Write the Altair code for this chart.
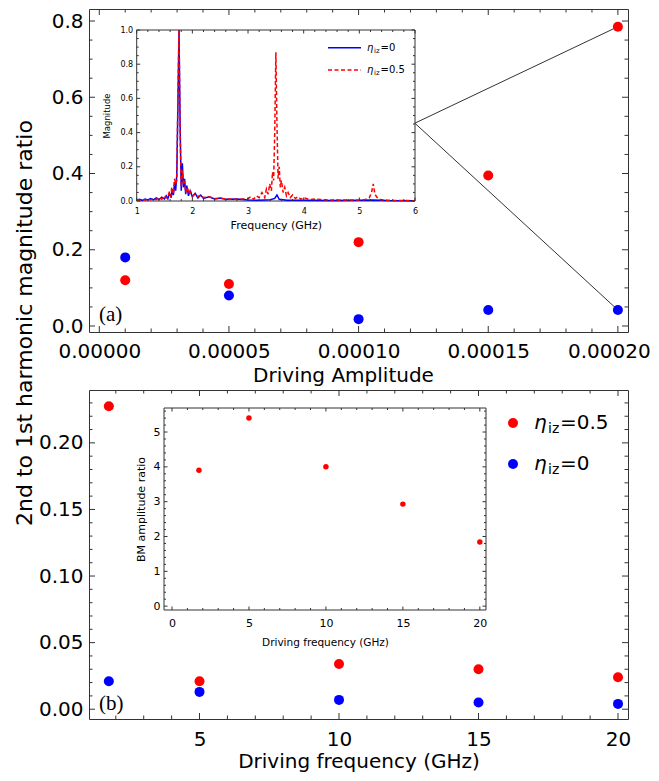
import altair as alt
import pandas as pd

FONT = "DejaVu Sans"
SERIF = "Liberation Serif"
RED = "#ff0000"
BLUE = "#0000ff"
SPINE = "#333333"

# ---------------- data ----------------
# panel (a): ratio vs driving amplitude
amp = [0.00001, 0.00005, 0.00010, 0.00015, 0.00020]
ratio_a_05 = [0.12, 0.11, 0.22, 0.395, 0.785]
ratio_a_0 = [0.18, 0.08, 0.018, 0.042, 0.042]

# panel (b): ratio vs driving frequency
drive_f = [1.75, 5, 10, 15, 20]
ratio_b_05 = [0.2275, 0.021, 0.034, 0.030, 0.024]
ratio_b_0 = [0.021, 0.013, 0.007, 0.005, 0.004]

# inset (b): BM amplitude ratio
bm_ratio = [3.9, 5.4, 4.0, 2.93, 1.84]

# inset (a): spectra
blue_freq = [1.00, 1.05, 1.10, 1.15, 1.20, 1.25, 1.30, 1.35, 1.40, 1.45,
             1.50, 1.53, 1.56, 1.59, 1.62, 1.64, 1.66, 1.68, 1.70, 1.72,
             1.74, 1.76, 1.78, 1.80, 1.82, 1.84, 1.86, 1.88, 1.90, 1.93,
             1.96, 2.00, 2.05, 2.10, 2.15, 2.20, 2.30, 2.40, 2.50, 2.60,
             2.80, 3.00, 3.20, 3.40, 3.48, 3.52, 3.56, 3.70, 4.00, 4.50,
             5.00, 5.25, 5.50, 6.00]
blue_mag = [0.005, 0.010, 0.004, 0.012, 0.006, 0.014, 0.007, 0.018, 0.009, 0.022,
            0.012, 0.030, 0.014, 0.045, 0.020, 0.070, 0.035, 0.11, 0.06, 0.15,
            0.55, 1.00, 0.45, 0.06, 0.22, 0.08, 0.13, 0.04, 0.09, 0.03,
            0.06, 0.025, 0.045, 0.018, 0.035, 0.015, 0.025, 0.012, 0.018, 0.010,
            0.012, 0.006, 0.004, 0.008, 0.015, 0.035, 0.010, 0.005, 0.004, 0.003,
            0.004, 0.006, 0.003, 0.002]
red_freq = [1.00, 1.05, 1.10, 1.15, 1.20, 1.25, 1.30, 1.35, 1.40, 1.45,
            1.50, 1.55, 1.58, 1.61, 1.63, 1.66, 1.68, 1.70, 1.72, 1.74,
            1.76, 1.78, 1.80, 1.82, 1.84, 1.86, 1.88, 1.91, 1.94, 1.97,
            2.00, 2.05, 2.10, 2.15, 2.20, 2.30, 2.40, 2.50, 2.70, 2.90,
            3.00, 3.05, 3.10, 3.15, 3.20, 3.25, 3.30, 3.33, 3.36, 3.39,
            3.42, 3.44, 3.46, 3.48, 3.50, 3.52, 3.54, 3.56, 3.58, 3.60,
            3.63, 3.66, 3.69, 3.72, 3.76, 3.80, 3.85, 3.90, 3.95, 4.00,
            4.10, 4.20, 4.40, 4.60, 4.80, 5.00, 5.10, 5.18, 5.22, 5.25,
            5.28, 5.31, 5.35, 5.45, 5.60, 6.00]
red_mag = [0.008, 0.004, 0.010, 0.005, 0.012, 0.006, 0.016, 0.008, 0.020, 0.010,
           0.030, 0.015, 0.045, 0.020, 0.080, 0.040, 0.13, 0.10, 0.12, 0.60,
           1.00, 0.40, 0.08, 0.18, 0.10, 0.12, 0.05, 0.08, 0.04, 0.055,
           0.030, 0.040, 0.025, 0.035, 0.020, 0.025, 0.015, 0.015, 0.010, 0.012,
           0.015, 0.025, 0.010, 0.030, 0.020, 0.050, 0.020, 0.070, 0.040, 0.10,
           0.06, 0.17, 0.12, 0.40, 0.87, 0.45, 0.13, 0.20, 0.08, 0.12,
           0.05, 0.08, 0.03, 0.05, 0.02, 0.035, 0.015, 0.025, 0.010, 0.020,
           0.008, 0.012, 0.006, 0.005, 0.006, 0.005, 0.008, 0.020, 0.050, 0.10,
           0.04, 0.025, 0.010, 0.005, 0.003, 0.002]

# zoom-connector anchor (right edge of inset a), in panel (a) data units
ANCHOR_AMP = 0.0001217
ANCHOR_RATIO = 0.532

# tick values
A_XMAJ = [0.0, 0.00005, 0.00010, 0.00015, 0.00020]
A_XMIN = [0.00001, 0.00002, 0.00003, 0.00004, 0.00006, 0.00007, 0.00008, 0.00009,
          0.00011, 0.00012, 0.00013, 0.00014, 0.00016, 0.00017, 0.00018, 0.00019]
A_YMAJ = [0.0, 0.2, 0.4, 0.6, 0.8]
A_YMIN = [0.05, 0.1, 0.15, 0.25, 0.3, 0.35, 0.45, 0.5, 0.55, 0.65, 0.7, 0.75]
B_XMAJ = [5, 10, 15, 20]
B_XMIN = [2, 3, 4, 6, 7, 8, 9, 11, 12, 13, 14, 16, 17, 18, 19]
B_YMAJ = [0.0, 0.05, 0.10, 0.15, 0.20]
B_YMIN = [0.01, 0.02, 0.03, 0.04, 0.06, 0.07, 0.08, 0.09, 0.11, 0.12, 0.13, 0.14,
          0.16, 0.17, 0.18, 0.19, 0.21, 0.22, 0.23]
IA_XMAJ = [1, 2, 3, 4, 5, 6]
IA_XMIN = [1.2, 1.4, 1.6, 1.8, 2.2, 2.4, 2.6, 2.8, 3.2, 3.4, 3.6, 3.8,
           4.2, 4.4, 4.6, 4.8, 5.2, 5.4, 5.6, 5.8]
IA_YMAJ = [0.0, 0.2, 0.4, 0.6, 0.8, 1.0]
IA_YMIN = [0.05, 0.1, 0.15, 0.25, 0.3, 0.35, 0.45, 0.5, 0.55, 0.65, 0.7, 0.75,
           0.85, 0.9, 0.95]
IB_XMAJ = [0, 5, 10, 15, 20]
IB_XMIN = [1, 2, 3, 4, 6, 7, 8, 9, 11, 12, 13, 14, 16, 17, 18, 19]
IB_YMAJ = [0, 1, 2, 3, 4, 5]
IB_YMIN = [0.2, 0.4, 0.6, 0.8, 1.2, 1.4, 1.6, 1.8, 2.2, 2.4, 2.6, 2.8,
           3.2, 3.4, 3.6, 3.8, 4.2, 4.4, 4.6, 4.8, 5.2, 5.4, 5.6]

# ---------------- geometry ----------------
W = 539
H1 = 323
H2 = 329
GAP = 58
A_X = [-0.00000397, 0.0002039]
A_Y = [-0.0157, 0.8315]
B_X = [1.039, 20.358]
B_Y = [-0.00735, 0.2397]
IA_X, IA_XR = [1, 6], [47.7, 326]
IA_Y, IA_YR = [0, 1], [192, 21]
IB_X, IB_XR = [-0.52, 20.4], [75, 397]
IB_Y, IB_YR = [-0.11, 5.69], [220, 18]


def sc(dom, rng=None):
    if rng is None:
        return alt.Scale(domain=dom, nice=False, zero=False)
    return alt.Scale(domain=dom, range=rng, nice=False, zero=False)


def rule_ticks(vals, dom, rng, orient, pos, size):
    base = alt.Chart(pd.DataFrame({"v": vals})).mark_rule(color=SPINE, strokeWidth=1)
    if orient in ("bottom", "top"):
        sign = -1 if orient == "bottom" else 1
        return base.encode(x=alt.X("v:Q", scale=sc(dom, rng), axis=None),
                           y=alt.value(pos), y2=alt.value(pos + sign * size))
    sign = 1 if orient == "left" else -1
    return base.encode(y=alt.Y("v:Q", scale=sc(dom, rng), axis=None),
                       x=alt.value(pos), x2=alt.value(pos + sign * size))


def frame_ticks(xmaj, xmin, ymaj, ymin, xdom, ydom, xrng, yrng,
                left, right, bottom, top, big, small):
    out = []
    for vals, s in ((xmaj, big), (xmin, small)):
        out.append(rule_ticks(vals, xdom, xrng, "bottom", bottom, s))
        out.append(rule_ticks(vals, xdom, xrng, "top", top, s))
    for vals, s in ((ymaj, big), (ymin, small)):
        out.append(rule_ticks(vals, ydom, yrng, "left", left, s))
        out.append(rule_ticks(vals, ydom, yrng, "right", right, s))
    return out


def frame_rect(xdom, ydom, xrng, yrng):
    df = pd.DataFrame({"x0": [xdom[0]], "x1": [xdom[1]], "y0": [ydom[0]], "y1": [ydom[1]]})
    return alt.Chart(df).mark_rect(fill="white", stroke=SPINE, strokeWidth=1).encode(
        x=alt.X("x0:Q", scale=sc(xdom, xrng), axis=None), x2="x1",
        y=alt.Y("y0:Q", scale=sc(ydom, yrng), axis=None), y2="y1")


def label(text, x, y, size, font=FONT, align="left", baseline="middle", **kw):
    return alt.Chart(pd.DataFrame({"t": [text]})).mark_text(
        font=font, fontSize=size, align=align, baseline=baseline, color="black", **kw
    ).encode(text="t:N", x=alt.value(x), y=alt.value(y))


def eta_label(x, y, value, big, small, sub_dy, gap1, gap2):
    return [
        label("η", x, y, big, fontStyle="italic"),
        label("iz", x + gap1, y + sub_dy, small),
        label("=" + value, x + gap1 + gap2, y, big),
    ]


# ---------------- panel (a) ----------------
df_a = pd.DataFrame({
    "amp": amp + amp,
    "ratio": ratio_a_05 + ratio_a_0,
    "series": ["0.5"] * len(amp) + ["0"] * len(amp),
})
color_scale = alt.Scale(domain=["0.5", "0"], range=[RED, BLUE])

conn = alt.Chart(pd.DataFrame({
    "ax": [ANCHOR_AMP, ANCHOR_AMP], "ay": [ANCHOR_RATIO, ANCHOR_RATIO],
    "px": [amp[-1], amp[-1]], "py": [ratio_a_05[-1], ratio_a_0[-1]],
})).mark_rule(color="#333333", strokeWidth=1).encode(
    x=alt.X("ax:Q", scale=sc(A_X), axis=None), y=alt.Y("ay:Q", scale=sc(A_Y), axis=None),
    x2="px", y2="py")

pts_a = alt.Chart(df_a).mark_circle(size=100, opacity=1).encode(
    x=alt.X("amp:Q", scale=sc(A_X), axis=alt.Axis(
        values=A_XMAJ, format=".5f", title="Driving Amplitude", titleX=254,
        labelFontSize=20, titleFontSize=20, ticks=False, tickSize=0, domain=False,
        grid=False, labelFlush=False, labelOverlap=False, labelPadding=9, titlePadding=4,
        labelOffset={"condition": {"test": "datum.value > 0.00019", "value": -9}, "value": 0})),
    y=alt.Y("ratio:Q", scale=sc(A_Y), axis=alt.Axis(
        values=A_YMAJ, format=".1f", title=None, labelFontSize=20, ticks=False,
        tickSize=0, domain=False, grid=False, labelFlush=False, labelOverlap=False,
        labelPadding=6)),
    color=alt.Color("series:N", scale=color_scale, legend=None))

df_blue = pd.DataFrame({"f": blue_freq, "m": blue_mag})
df_red = pd.DataFrame({"f": red_freq, "m": red_mag})

ia_rect = frame_rect(IA_X, IA_Y, IA_XR, IA_YR)
ia_blue = alt.Chart(df_blue).mark_line(color=BLUE, strokeWidth=1.5).encode(
    x=alt.X("f:Q", scale=sc(IA_X, IA_XR), axis=alt.Axis(
        orient="bottom", offset=-(H1 - IA_YR[0]), values=IA_XMAJ, format="d",
        title="Frequency (GHz)", labelFontSize=8, titleFontSize=11, ticks=False,
        tickSize=0, domain=False, grid=False, labelFlush=False, labelPadding=6,
        titlePadding=4)),
    y=alt.Y("m:Q", scale=sc(IA_Y, IA_YR), axis=alt.Axis(
        orient="left", offset=-IA_XR[0], values=IA_YMAJ, format=".1f",
        title="Magnitude", labelFontSize=8, titleFontSize=8.5, ticks=False,
        tickSize=0, domain=False, grid=False, labelFlush=False, labelPadding=4,
        titlePadding=8)))
ia_red = alt.Chart(df_red).mark_line(color=RED, strokeWidth=1.5, strokeDash=[4, 2.5]).encode(
    x=alt.X("f:Q", scale=sc(IA_X, IA_XR), axis=None),
    y=alt.Y("m:Q", scale=sc(IA_Y, IA_YR), axis=None))

leg_a = [
    alt.Chart(pd.DataFrame({"a": [0]})).mark_rule(color=BLUE, strokeWidth=1.5).encode(
        x=alt.value(239), x2=alt.value(272), y=alt.value(38.7)),
    alt.Chart(pd.DataFrame({"a": [0]})).mark_rule(color=RED, strokeWidth=1.5, strokeDash=[4, 2.5]).encode(
        x=alt.value(239), x2=alt.value(272), y=alt.value(61)),
]
leg_a += eta_label(278, 38.7, "0", 10, 7, 3, 7, 6.5)
leg_a += eta_label(278, 61, "0.5", 10, 7, 3, 7, 6.5)

# invisible anchor fixing the left edge of the whole drawing
left_anchor = alt.Chart(pd.DataFrame({"a": [0]})).mark_rule(
    color="white", strokeWidth=1, strokeOpacity=0).encode(
    x=alt.value(-80), x2=alt.value(-79), y=alt.value(150))

top_layers = [left_anchor, conn, pts_a]
top_layers += frame_ticks(A_XMAJ, A_XMIN, A_YMAJ, A_YMIN, A_X, A_Y, None, None,
                          0, W, H1, 0, 6, 3.5)
top_layers += [ia_rect, ia_blue, ia_red]
top_layers += frame_ticks(IA_XMAJ, IA_XMIN, IA_YMAJ, IA_YMIN, IA_X, IA_Y, IA_XR, IA_YR,
                          IA_XR[0], IA_XR[1], IA_YR[0], IA_YR[1], 3.5, 2)
top_layers += leg_a
top_layers.append(label("(a)", 10, 306, 21, font=SERIF))

top = alt.layer(*top_layers).resolve_scale(x="independent", y="independent").properties(
    width=W, height=H1)

# ---------------- panel (b) ----------------
df_b = pd.DataFrame({
    "f": drive_f + drive_f,
    "ratio": ratio_b_05 + ratio_b_0,
    "series": ["0.5"] * len(drive_f) + ["0"] * len(drive_f),
})
pts_b = alt.Chart(df_b).mark_circle(size=100, opacity=1).encode(
    x=alt.X("f:Q", scale=sc(B_X), axis=alt.Axis(
        values=B_XMAJ, format="d", title="Driving frequency (GHz)",
        labelFontSize=20, titleFontSize=20, ticks=False, tickSize=0, domain=False,
        grid=False, labelFlush=False, labelOverlap=False, labelPadding=10, titlePadding=2)),
    y=alt.Y("ratio:Q", scale=sc(B_Y), axis=alt.Axis(
        values=B_YMAJ, format=".2f", title=None, labelFontSize=20, ticks=False,
        tickSize=0, domain=False, grid=False, labelFlush=False, labelOverlap=False,
        labelPadding=6)),
    color=alt.Color("series:N", scale=color_scale, legend=None))

df_bm = pd.DataFrame({"f": drive_f, "r": bm_ratio})
ib_rect = frame_rect(IB_X, IB_Y, IB_XR, IB_YR)
ib_pts = alt.Chart(df_bm).mark_circle(size=30, opacity=1, color=RED).encode(
    x=alt.X("f:Q", scale=sc(IB_X, IB_XR), axis=alt.Axis(
        orient="bottom", offset=-(H2 - IB_YR[0]), values=IB_XMAJ, format="d",
        title="Driving frequency (GHz)", labelFontSize=11, titleFontSize=10.5,
        ticks=False, tickSize=0, domain=False, grid=False, labelFlush=False,
        labelPadding=7, titlePadding=9)),
    y=alt.Y("r:Q", scale=sc(IB_Y, IB_YR), axis=alt.Axis(
        orient="left", offset=-IB_XR[0], values=IB_YMAJ, format="d",
        title="BM amplitude ratio", labelFontSize=11, titleFontSize=11, ticks=False,
        tickSize=0, domain=False, grid=False, labelFlush=False, labelPadding=4,
        titlePadding=7)))

leg_b = [
    alt.Chart(pd.DataFrame({"a": [0]})).mark_circle(size=100, opacity=1, color=RED).encode(
        x=alt.value(424), y=alt.value(33)),
    alt.Chart(pd.DataFrame({"a": [0]})).mark_circle(size=100, opacity=1, color=BLUE).encode(
        x=alt.value(424), y=alt.value(74)),
]
leg_b += eta_label(445, 33, "0.5", 20, 14, 6, 14, 12)
leg_b += eta_label(445, 74, "0", 20, 14, 6, 14, 12)

bot_layers = [pts_b]
bot_layers += frame_ticks(B_XMAJ, B_XMIN, B_YMAJ, B_YMIN, B_X, B_Y, None, None,
                          0, W, H2, 0, 6, 3.5)
bot_layers += [ib_rect, ib_pts]
bot_layers += frame_ticks(IB_XMAJ, IB_XMIN, IB_YMAJ, IB_YMIN, IB_X, IB_Y, IB_XR, IB_YR,
                          IB_XR[0], IB_XR[1], IB_YR[0], IB_YR[1], 3.5, 2)
bot_layers += leg_b
bot_layers.append(label("(b)", 10, H2 - 15, 21, font=SERIF))
bot_layers.append(label("2nd to 1st harmonic magnitude ratio", -64, -67, 22,
                        align="center", angle=270))

bottom = alt.layer(*bot_layers).resolve_scale(x="independent", y="independent").properties(
    width=W, height=H2)

chart = alt.vconcat(top, bottom, spacing=GAP, bounds="flush").properties(
    padding={"left": 0, "top": 0, "right": 0, "bottom": 0}
).configure_view(stroke=SPINE, strokeWidth=1).configure_axis(
    labelFont=FONT, titleFont=FONT, labelColor="black", titleColor="black",
    titleFontWeight="normal")

chart.save("out.html", embed_options={"renderer": "svg", "actions": False})
